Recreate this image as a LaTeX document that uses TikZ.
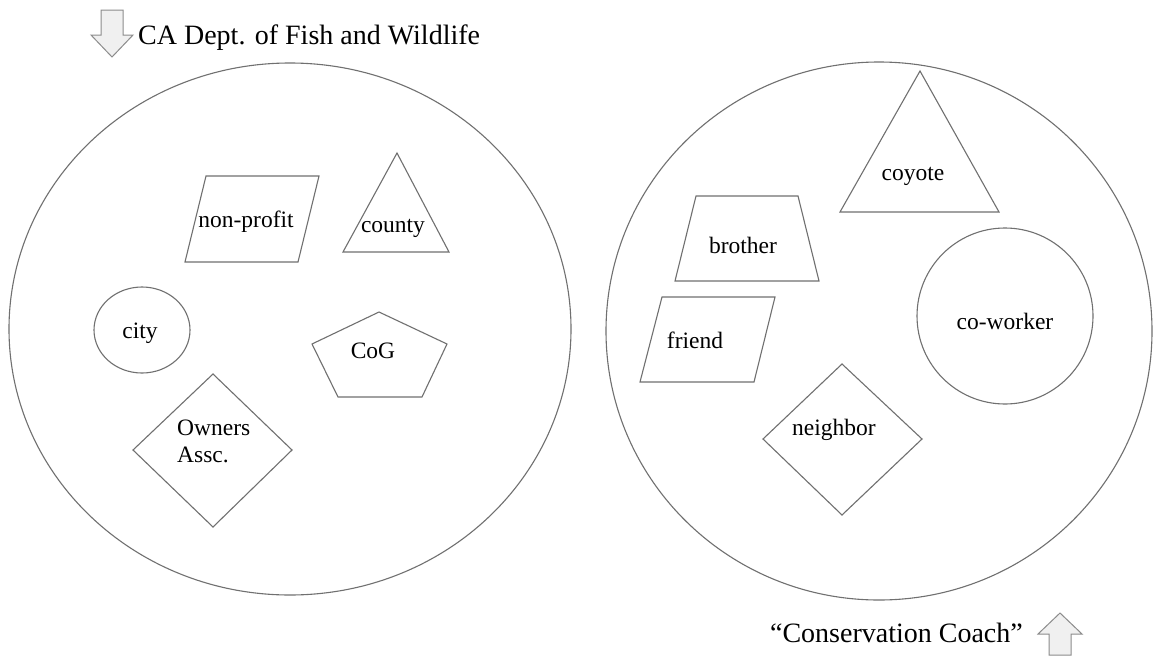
\documentclass[tikz,border=0pt]{standalone}
\usepackage{fontspec}
\setmainfont{Liberation Serif}
\definecolor{linegray}{HTML}{707070}
\definecolor{arrowgray}{HTML}{8C8C8C}
\definecolor{arrowfill}{HTML}{F0F0F0}
\begin{document}
\begin{tikzpicture}[x=1pt,y=-1pt,
  shp/.style={draw=linegray, line width=1.1pt, line join=miter},
  lbl/.style={font=\fontsize{23.5}{27}\selectfont, inner sep=0pt, anchor=base},
  big/.style={font=\fontsize{28}{32}\selectfont, inner sep=0pt},
  blockarrow/.style={draw=arrowgray, fill=arrowfill, line width=1pt, line join=miter}]
\useasboundingbox (0,0) rectangle (1156,656);
\fill[white] (0,0) rectangle (1156,656);

% big circles
\draw[shp] (290,329) ellipse [x radius=281, y radius=266];
\draw[shp] (879,331) ellipse [x radius=273, y radius=269];

% top-left down arrow and title
\draw[blockarrow] (101,10) -- (123,10) -- (123,35) -- (133,35) -- (112,57) -- (91,35) -- (101,35) -- cycle;
\node[big, anchor=base west] (title) at (138,44) {CA Dept. of Fish and Wildlife};

% bottom-right up arrow and label
\draw[blockarrow] (1049,655) -- (1071,655) -- (1071,634) -- (1082,634) -- (1060,613) -- (1038,634) -- (1049,634) -- cycle;
\node[big, anchor=base east] (coach) at (1023,642) {“Conservation Coach”};

% left group
\draw[shp] (206,176) -- (319,176) -- (298,262) -- (185,262) -- cycle;
\node[lbl] (nonprofit) at (246,227) {non-profit};
\draw[shp] (397,153) -- (449,252) -- (343,252) -- cycle;
\node[lbl] (county) at (393,232) {county};
\draw[shp] (142,330) ellipse [x radius=48, y radius=43];
\node[lbl] (city) at (140,338) {city};
\draw[shp] (379,312) -- (447,344) -- (422,397) -- (338,397) -- (312,344) -- cycle;
\node[lbl] (cog) at (373,358) {CoG};
\draw[shp] (213,374) -- (292,450) -- (213,527) -- (133,450) -- cycle;
\node[lbl, anchor=base west, align=left] (owners) at (177,435) {Owners};
\node[lbl, anchor=base west] (assc) at (177,462) {Assc.};

% right group
\draw[shp] (920,71) -- (999,212) -- (840,212) -- cycle;
\node[lbl] (coyote) at (913,180) {coyote};
\draw[shp] (696,196) -- (798,196) -- (819,281) -- (675,281) -- cycle;
\node[lbl] (brother) at (743,253) {brother};
\draw[shp] (1005,316) circle [radius=88];
\node[lbl] (coworker) at (1005,329) {co-worker};
\draw[shp] (662,297) -- (775,297) -- (754,382) -- (640,382) -- cycle;
\node[lbl] (friend) at (695,348) {friend};
\draw[shp] (842,364) -- (922,439) -- (842,515) -- (763,439) -- cycle;
\node[lbl] (neighbor) at (834,435) {neighbor};
\end{tikzpicture}
\end{document}
